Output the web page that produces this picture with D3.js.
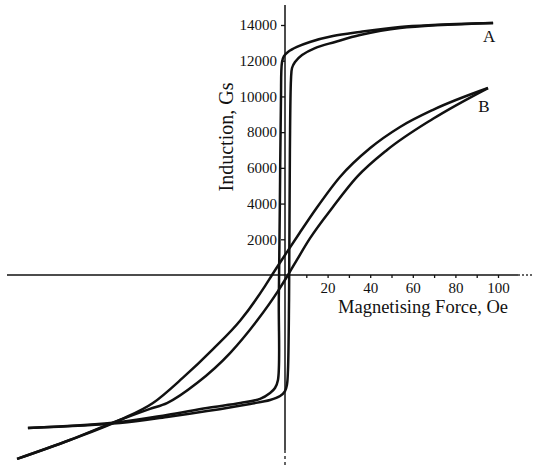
<!DOCTYPE html>
<html>
<head>
<meta charset="utf-8">
<script src="https://cdn.jsdelivr.net/npm/d3@7"></script>
<style>
  body { margin: 0; background: #fff; }
  svg { display: block; }
  text { font-family: "Liberation Serif", "Times New Roman", serif; fill: #111; }
</style>
</head>
<body>
<div id="chart"></div>
<script>
var width = 533
var height = 468

// loop A - descending branch (outer), H in Oe, B in Gs
var aDescH = [97.7, 69.5, 54, 35.2, 22.5, 11.7, 5.6, 1.4, -0.5, -1.4, -1.9, -2.4, -2.9, -3.3, -4.7, -7, -11.7, -21, -36.6, -55.4, -77.5, -120.7]
var aDescB = [14110, 14000, 13890, 13610, 13380, 13050, 12770, 12490, 12260, 11930, 9800, 4200, -1400, -5880, -6330, -6610, -6940, -7170, -7450, -7840, -8230, -8570]
// loop A - ascending branch (inner)
var aAscH = [-120.7, -77.5, -55.4, -36.6, -16.4, -7, -2.3, 0, 0.9, 1.4, 1.9, 2.3, 2.8, 3.3, 4.7, 8, 14.1, 23.5, 35.2, 54, 97.7]
var aAscB = [-8570, -8290, -7950, -7620, -7220, -7000, -6780, -6500, -6160, -5320, -1400, 7000, 10920, 11590, 11930, 12320, 12710, 13050, 13440, 13830, 14110]

// loop B - descending branch (upper left), listed by rising H
var bDescH = [-125.8, -101, -77.5, -62, -47.9, -33.8, -21, -9.4, -6.1, 0.9, 7, 15, 25.8, 40, 54, 69.5, 95.3]
var bDescB = [-10300, -9240, -8120, -7170, -5750, -4150, -2550, -620, 0, 1280, 2380, 3780, 5490, 7110, 8290, 9250, 10470]
// loop B - ascending branch (lower right)
var bAscH = [-125.8, -101, -77.5, -63.4, -55.4, -41.3, -25.8, -13.1, -3.3, 1.4, 5.6, 11.7, 22.5, 33.8, 47.9, 69.5, 95.3]
var bAscB = [-10300, -9240, -8120, -7500, -7170, -6050, -4370, -2550, -900, 0, 850, 2050, 3810, 5490, 7000, 8750, 10470]

var yTicks = [2000, 4000, 6000, 8000, 10000, 12000, 14000]
var xTicks = [20, 40, 60, 80, 100]
var xMinorTicks = [10, 20, 30, 40, 50, 60, 70, 80, 90, 100]

var curveNames = ["A", "B"]
var xTitle = "Magnetising Force, Oe"
var yTitle = "Induction, Gs"

var x = d3.scaleLinear().domain([0, 100]).range([285, 498])
var y = d3.scaleLinear().domain([0, 14000]).range([275, 25])

var svg = d3.select("#chart")
  .append("svg")
  .attr("width", width)
  .attr("height", height)

// axes lines through the origin
svg.append("line")
  .attr("x1", 7).attr("x2", 518)
  .attr("y1", y(0)).attr("y2", y(0))
  .attr("stroke", "#111").attr("stroke-width", 1.5)
svg.append("line")
  .attr("x1", 518).attr("x2", 533)
  .attr("y1", y(0)).attr("y2", y(0))
  .attr("stroke", "#333").attr("stroke-width", 1.5)
  .attr("stroke-dasharray", "2,2")
svg.append("line")
  .attr("x1", x(0)).attr("x2", x(0))
  .attr("y1", 5).attr("y2", 450)
  .attr("stroke", "#111").attr("stroke-width", 1.5)
svg.append("line")
  .attr("x1", x(0)).attr("x2", x(0))
  .attr("y1", 450).attr("y2", 468)
  .attr("stroke", "#333").attr("stroke-width", 1.5)
  .attr("stroke-dasharray", "3,3")

function serifTicks(g) {
  g.select(".domain").remove()
  g.attr("font-family", null).attr("font-size", null)
  g.selectAll("line").attr("stroke", "#111").attr("stroke-width", 1.3)
  g.selectAll("text").style("font-size", "15px").attr("fill", "#111")
}

var yAxis = d3.axisLeft(y)
  .tickValues(yTicks)
  .tickFormat(d3.format("d"))
  .tickSize(4)
  .tickPadding(4)
svg.append("g")
  .attr("transform", "translate(" + x(0) + ",0)")
  .call(yAxis)
  .call(serifTicks)

var xAxisMinor = d3.axisBottom(x)
  .tickValues(xMinorTicks)
  .tickSize(3)
  .tickFormat("")
svg.append("g")
  .attr("transform", "translate(0," + y(0) + ")")
  .call(xAxisMinor)
  .call(serifTicks)

var xAxis = d3.axisBottom(x)
  .tickValues(xTicks)
  .tickFormat(d3.format("d"))
  .tickSize(0)
  .tickPadding(7)
svg.append("g")
  .attr("transform", "translate(0," + y(0) + ")")
  .call(xAxis)
  .call(serifTicks)

// titles
svg.append("text")
  .attr("x", 338)
  .attr("y", 313)
  .style("font-size", "18.5px")
  .text(xTitle)

svg.append("text")
  .attr("transform", "translate(233,137) rotate(-90)")
  .attr("text-anchor", "middle")
  .style("font-size", "20px")
  .text(yTitle)

// loops
var lineA = d3.line()
  .x(function (d) { return x(d[0]) })
  .y(function (d) { return y(d[1]) })
  .curve(d3.curveCatmullRom.alpha(0.5))

var lineB = d3.line()
  .x(function (d) { return x(d[0]) })
  .y(function (d) { return y(d[1]) })
  .curve(d3.curveMonotoneX)

var loops = [
  { pts: d3.zip(aDescH, aDescB), line: lineA },
  { pts: d3.zip(aAscH, aAscB), line: lineA },
  { pts: d3.zip(bDescH, bDescB), line: lineB },
  { pts: d3.zip(bAscH, bAscB), line: lineB }
]

svg.append("g")
  .selectAll("path")
  .data(loops)
  .enter()
  .append("path")
  .attr("d", function (d) { return d.line(d.pts) })
  .attr("fill", "none")
  .attr("stroke", "#111")
  .attr("stroke-width", 2.5)
  .attr("stroke-linejoin", "round")

// curve names under the loop ends
var nameAt = [[aDescH[0], aDescB[0]], [bDescH[bDescH.length - 1], bDescB[bDescB.length - 1]]]
var nameDrop = [19, 24]
svg.append("g")
  .selectAll("text")
  .data(curveNames)
  .enter()
  .append("text")
  .attr("x", function (d, i) { return x(nameAt[i][0]) - 4 })
  .attr("y", function (d, i) { return y(nameAt[i][1]) + nameDrop[i] })
  .attr("text-anchor", "middle")
  .style("font-size", "17px")
  .text(function (d) { return d })
</script>
</body>
</html>
